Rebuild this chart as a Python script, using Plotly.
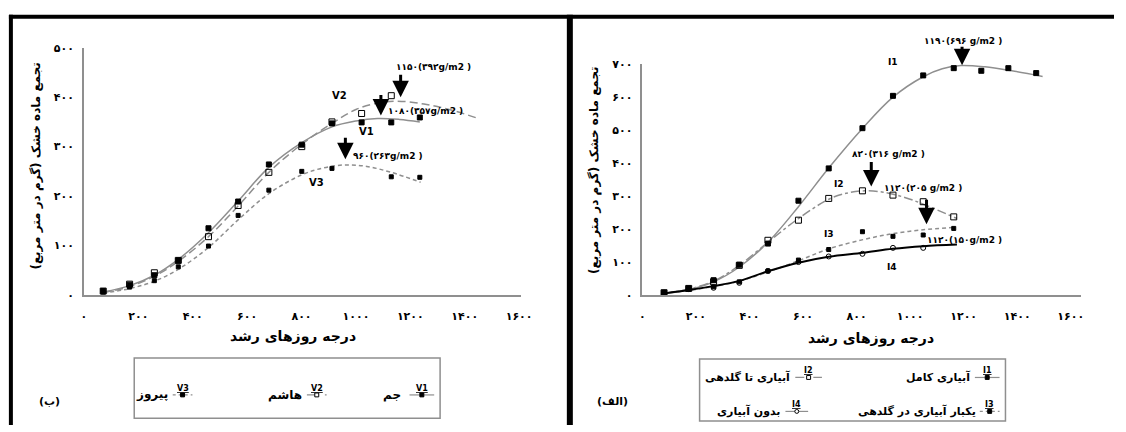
import plotly.graph_objects as go

W, H = 1126, 432

# ---------------- data : left panel (ب) cultivars ----------------
gdd_left = [71, 168, 259, 347, 458, 567, 680, 801, 912, 1021, 1130, 1235]
v1_obs = [8, 21, 40, 70, 135, 189, 264, 304, 347, 349, 349, 359]
v2_obs = [8, 22, 45, 70, 118, 181, 248, 300, 350, 367, 403, None]
v3_obs = [6, 16, 29, 57, 99, 161, 212, 250, 256, None, 239, 238]

v1_fit_x = [71, 168, 259, 347, 458, 567, 680, 801, 912, 1000, 1080, 1160, 1235]
v1_fit_y = [6, 19, 40, 72, 126, 190, 258, 308, 340, 352, 357, 355, 350]
v2_fit_x = [71, 168, 259, 347, 458, 567, 680, 801, 912, 1000, 1080, 1150, 1250, 1350, 1444]
v2_fit_y = [5, 17, 38, 68, 118, 180, 248, 305, 347, 375, 388, 392, 386, 374, 358]
v3_fit_x = [71, 168, 259, 347, 458, 567, 680, 801, 880, 960, 1040, 1130, 1238]
v3_fit_y = [4, 13, 28, 52, 96, 152, 205, 243, 257, 263, 260, 248, 228]

# ---------------- data : right panel (الف) irrigation ----------------
gdd_right = [81, 173, 266, 362, 469, 583, 696, 822, 936, 1049, 1163, 1266, 1367, 1471]
i1_obs = [7, 20, 45, 92, 156, 286, 384, 506, 604, 666, 688, 680, 688, 673]
i2_obs = [7, 20, 40, 90, 166, 227, 293, 316, 303, 283, 237]
i3_obs = [7, 18, 25, 40, 73, 106, 138, 192, 178, 182, 202]
i4_obs = [7, 18, 22, 37, 73, 100, 117, 125, 143, 143]

i1_fit_x = [81, 173, 266, 362, 469, 583, 696, 822, 936, 1049, 1120, 1190, 1280, 1380, 1495]
i1_fit_y = [4, 16, 40, 85, 160, 268, 385, 505, 600, 662, 686, 696, 692, 680, 663]
i2_fit_x = [81, 173, 266, 362, 469, 583, 700, 770, 830, 900, 980, 1060, 1175]
i2_fit_y = [5, 18, 42, 90, 160, 232, 292, 310, 316, 312, 296, 272, 232]
i3_fit_x = [81, 173, 266, 362, 469, 583, 696, 824, 935, 1049, 1162]
i3_fit_y = [5, 14, 26, 42, 70, 104, 140, 168, 186, 198, 205]
i4_fit_x = [81, 173, 266, 362, 469, 583, 696, 824, 935, 1049, 1175]
i4_fit_y = [5, 15, 27, 43, 72, 98, 116, 128, 140, 148, 153]

x_ticks = [0, 200, 400, 600, 800, 1000, 1200, 1400, 1600]
x_tick_text = ["۰", "۲۰۰", "۴۰۰", "۶۰۰", "۸۰۰", "۱۰۰۰", "۱۲۰۰", "۱۴۰۰", "۱۶۰۰"]
y_ticks_left = [0, 100, 200, 300, 400, 500]
y_tick_text_left = ["۰", "۱۰۰", "۲۰۰", "۳۰۰", "۴۰۰", "۵۰۰"]
y_ticks_right = [0, 100, 200, 300, 400, 500, 600, 700]
y_tick_text_right = ["۰", "۱۰۰", "۲۰۰", "۳۰۰", "۴۰۰", "۵۰۰", "۶۰۰", "۷۰۰"]

y_title = "تجمع ماده خشک (گرم در متر مربع)\u200f"
x_title = "درجه روزهای رشد"
legend_left = ["جم", "هاشم", "پیروز"]
legend_right = ["آبیاری کامل", "آبیاری تا گلدهی", "یکبار آبیاری در گلدهی", "بدون آبیاری"]

FONT = "DejaVu Sans"
GRAY = "#8f8f8f"


def px(x):
    return x / W


def py(y):
    return 1 - y / H


def bold(lst):
    return ["<b>%s</b>" % s for s in lst]


fig = go.Figure()


def curve(x, y, ax, dash, color=GRAY, width=1.5):
    fig.add_trace(go.Scatter(x=x, y=y, mode="lines", xaxis=ax[0], yaxis=ax[1],
                             line=dict(shape="spline", smoothing=1.0, color=color,
                                       width=width, dash=dash),
                             showlegend=False, hoverinfo="skip"))


def pts(x, y, ax, symbol, size=5):
    fig.add_trace(go.Scatter(x=x, y=y, mode="markers", xaxis=ax[0], yaxis=ax[1],
                             marker=dict(symbol=symbol, size=size, color="black",
                                         line=dict(color="black", width=1)),
                             showlegend=False, hoverinfo="skip"))


L = ("x", "y")
R = ("x2", "y2")
curve(v1_fit_x, v1_fit_y, L, "solid")
curve(v2_fit_x, v2_fit_y, L, "8px,4px")
curve(v3_fit_x, v3_fit_y, L, "4px,3px")
pts(gdd_left, v1_obs, L, "square", 5)
pts(gdd_left, v2_obs, L, "square-open", 6)
pts(gdd_left, v3_obs, L, "square", 4)

curve(i1_fit_x, i1_fit_y, R, "solid")
curve(i2_fit_x, i2_fit_y, R, "dashdot")
curve(i3_fit_x, i3_fit_y, R, "4px,3px")
curve(i4_fit_x, i4_fit_y, R, "solid", color="black", width=2)
pts(gdd_right, i1_obs, R, "square", 5)
pts(gdd_right[:len(i2_obs)], i2_obs, R, "square-open", 6)
pts(gdd_right[:len(i3_obs)], i3_obs, R, "square", 4)
pts(gdd_right[:len(i4_obs)], i4_obs, R, "circle-open", 5)

tickfont = dict(family=FONT, size=11, color="black")
axis_common = dict(showline=True, linecolor=GRAY, linewidth=1.5, showgrid=False,
                   zeroline=False, ticks="", tickfont=tickfont, fixedrange=True)

fig.update_layout(
    width=W, height=H, margin=dict(l=0, r=0, t=0, b=0),
    paper_bgcolor="white", plot_bgcolor="white",
    font=dict(family=FONT, color="black"),
    xaxis=dict(domain=[px(82), px(525)], range=[0, 1607], anchor="y",
               tickvals=x_ticks, ticktext=bold(x_tick_text), ticklabelstandoff=10, **axis_common),
    yaxis=dict(domain=[py(298), py(43)], range=[0, 500], anchor="x",
               tickvals=y_ticks_left, ticktext=bold(y_tick_text_left), ticklabelstandoff=6, **axis_common),
    xaxis2=dict(domain=[px(648), px(1093)], range=[0, 1640], anchor="y2",
                tickvals=x_ticks, ticktext=bold(x_tick_text), ticklabelstandoff=10, **axis_common),
    yaxis2=dict(domain=[py(298), py(60)], range=[0, 700], anchor="x2",
                tickvals=y_ticks_right, ticktext=bold(y_tick_text_right), ticklabelstandoff=6, **axis_common),
)

ann = []
shapes = []


def text(x, y, s, size=10, anchor="center", isbold=True, angle=0):
    ann.append(dict(x=px(x), y=py(y), xref="paper", yref="paper", text=("<b>%s</b>" % s) if isbold else s,
                    showarrow=False, xanchor=anchor, yanchor="middle", textangle=angle,
                    font=dict(family=FONT, size=size, color="black")))


def arrow(x, y0, y1):
    ann.append(dict(x=px(x), y=py(y1), xref="paper", yref="paper", text="", showarrow=True,
                    ax=0, ay=-(y1 - y0), arrowhead=2, arrowsize=1.1, arrowwidth=3,
                    arrowcolor="black", standoff=0))


# left panel annotations
text(341, 92, "V2", 10)
text(368, 129, "V1", 10)
text(318, 182, "V3", 10)
text(436, 63, "۱۱۵۰(۳۹۲g/m2 )", 9)
arrow(403, 70, 94)
text(428, 108, "۱۰۸۰(۳۵۷g/m2 )", 9)
arrow(383, 91, 113)
text(390, 155, "۹۶۰(۲۶۳g/m2 )", 9)
arrow(347, 135, 158)

# right panel annotations
text(902, 58, "I1", 9)
text(973, 36, "۱۱۹۰(۶۹۶ g/m2 )", 9)
arrow(972, 41, 61)
text(897, 153, "۸۲۰(۳۱۶ g/m2 )", 9)
arrow(880, 160, 186)
text(847, 184, "I2", 9)
text(932, 188, "۱۱۲۰(۲۰۵ g/m2 )", 9)
arrow(936, 199, 225)
text(837, 235, "I3", 9)
text(974, 241, "۱۱۲۰(۱۵۰g/m2 )", 9)
text(901, 269, "I4", 9)

# axis titles
text(33, 165, y_title, 12, angle=-90)
text(600, 170, y_title, 12, angle=-90)
text(294, 341, x_title, 14)
text(880, 343, x_title, 14)

# panel letters
text(47, 408, "(ب)", 11)
text(618, 408, "(الف)", 11)

# frame lines
shapes.append(dict(type="line", xref="paper", yref="paper", x0=px(6), x1=1, y0=py(11), y1=py(11),
                   line=dict(color="black", width=4)))
shapes.append(dict(type="line", xref="paper", yref="paper", x0=px(8), x1=px(8), y0=py(9), y1=0,
                   line=dict(color="black", width=4)))
shapes.append(dict(type="line", xref="paper", yref="paper", x0=px(574.5), x1=px(574.5), y0=py(9), y1=0,
                   line=dict(color="black", width=6)))

# legend boxes
for (x0, y0, x1, y1) in [(133, 363, 443, 425), (706, 364, 1016, 428)]:
    shapes.append(dict(type="rect", xref="paper", yref="paper", x0=px(x0), x1=px(x1), y0=py(y1), y1=py(y0),
                       line=dict(color=GRAY, width=1.5), fillcolor="rgba(0,0,0,0)"))


def sample(xa, xb, y, dash, marker, label, color=GRAY, width=1.2):
    shapes.append(dict(type="line", xref="paper", yref="paper", x0=px(xa), x1=px(xb), y0=py(y), y1=py(y),
                       line=dict(color=color, width=width, dash=dash)))
    xm = (xa + xb) / 2
    s = 2
    if marker == "circle-open":
        shapes.append(dict(type="circle", xref="paper", yref="paper", x0=px(xm - s), x1=px(xm + s),
                           y0=py(y + s), y1=py(y - s), line=dict(color="black", width=1), fillcolor="white"))
    else:
        shapes.append(dict(type="rect", xref="paper", yref="paper", x0=px(xm - s), x1=px(xm + s),
                           y0=py(y + s), y1=py(y - s), line=dict(color="black", width=1),
                           fillcolor="white" if marker == "square-open" else "black"))
    ann.append(dict(x=px(xm), y=py(y - 7), xref="paper", yref="paper", text="<b><u>%s</u></b>" % label,
                    showarrow=False, xanchor="center", yanchor="middle",
                    font=dict(family=FONT, size=8, color="black")))


sample(412, 437, 401, "solid", "square", "V1")
text(405, 401, legend_left[0], 12, anchor="right")
sample(308, 328, 401, "dash", "square-open", "V2")
text(305, 401, legend_left[1], 12, anchor="right")
sample(172, 192, 401, "dot", "square", "V3")
text(169, 401, legend_left[2], 12, anchor="right")

sample(985, 1010, 383, "solid", "square", "I1")
text(982, 383, legend_right[0], 11, anchor="right")
sample(803, 830, 383, "dashdot", "square-open", "I2")
text(800, 383, legend_right[1], 11, anchor="right")
sample(990, 1010, 418, "dot", "square", "I3")
text(988, 418, legend_right[2], 11, anchor="right")
sample(793, 816, 418, "solid", "circle-open", "I4")
text(790, 418, legend_right[3], 11, anchor="right")

fig.update_layout(annotations=ann, shapes=shapes)
fig.write_html("out.html", config={"displayModeBar": False},
               post_script="document.body.style.margin='0';document.body.style.overflow='hidden';")
